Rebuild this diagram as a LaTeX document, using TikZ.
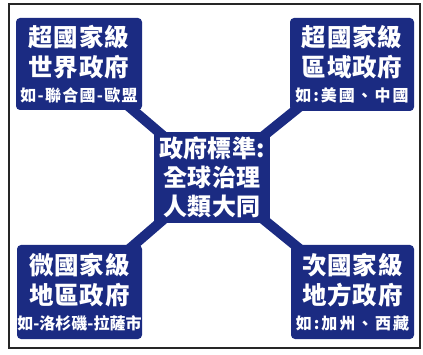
\documentclass[tikz,border=0pt]{standalone}
\usepackage{fontspec}
\setmainfont{Noto Sans CJK TC}
\usetikzlibrary{backgrounds}
\definecolor{navy}{RGB}{27,43,130}
\newcommand{\smalltxt}[2]{{\fontsize{16}{20}\selectfont\addfontfeatures{LetterSpace=#1}#2}}
\begin{document}
\begin{tikzpicture}[x=1pt,y=-1pt,
  box/.style={fill=navy, text=white, rounded corners=4pt, inner sep=0pt, align=center,
    font=\bfseries\fontsize{24.5}{30}\selectfont\addfontfeatures{LetterSpace=4}},
  hub/.style={box, rounded corners=0pt,
    font=\bfseries\fontsize{24}{29}\selectfont\addfontfeatures{LetterSpace=1}},
  link/.style={line width=10pt, navy}]
\useasboundingbox (0,0) rectangle (423,355);
\draw[line width=1.2pt, black!85] (9,4) rectangle (420,348);
\node[box, minimum width=126pt, minimum height=92pt] (tl) at (79,64)
  {超國家級\\[0pt]世界政府\\[-5pt]\smalltxt{8}{如-聯合國-歐盟}};
\node[box, minimum width=124pt, minimum height=93pt] (tr) at (352,64.5)
  {超國家級\\[0pt]區域政府\\[-5pt]\smalltxt{12}{如:美國、中國}};
\node[box, minimum width=125pt, minimum height=94pt] (bl) at (79.5,292)
  {微國家級\\[0pt]地區政府\\[-5pt]\smalltxt{0}{如-洛杉磯-拉薩市}};
\node[box, minimum width=123pt, minimum height=94pt] (br) at (352.5,292)
  {次國家級\\[0pt]地方政府\\[-5pt]\smalltxt{12}{如:加州、西藏}};
\node[hub, minimum width=116pt, minimum height=91pt] (c) at (212,177.5)
  {政府標準:\\全球治理\\人類大同};
\begin{scope}[on background layer]
  \draw[link] (tl.center) -- (c.center);
  \draw[link] (tr.center) -- (c.center);
  \draw[link] (bl.center) -- (c.center);
  \draw[link] (br.center) -- (c.center);
\end{scope}
\end{tikzpicture}
\end{document}
